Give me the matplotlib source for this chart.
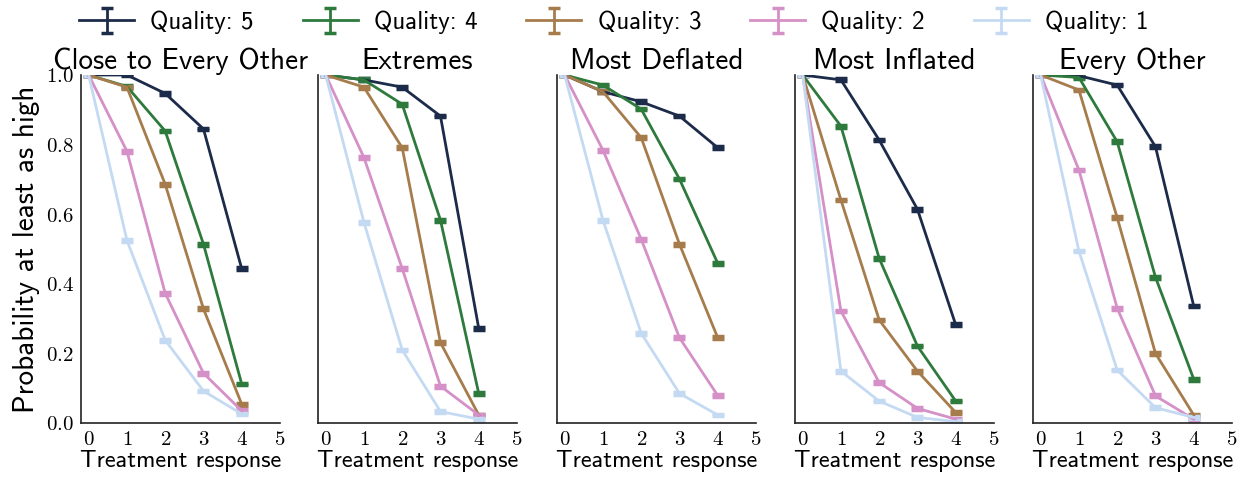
import numpy as np
import matplotlib
matplotlib.use("Agg")
import matplotlib.pyplot as plt
from matplotlib.ticker import FuncFormatter

plt.rcParams['mathtext.fontset'] = 'cm'
plt.rcParams['font.family'] = ['cmss10', 'DejaVu Sans']
plt.rcParams['axes.unicode_minus'] = False

# data
responses = [0, 1, 2, 3, 4]
panel_titles = ["Close to Every Other", "Extremes", "Most Deflated", "Most Inflated", "Every Other"]
quality_labels = ["Quality: 5", "Quality: 4", "Quality: 3", "Quality: 2", "Quality: 1"]
colours = ['#1c2b4a', '#2e7a3c', '#a67c4c', '#d590c7', '#c4daf3']

close_every_other = [
    [1.0, 1.0, 0.947, 0.845, 0.443],
    [1.0, 0.967, 0.839, 0.514, 0.112],
    [1.0, 0.965, 0.686, 0.328, 0.054],
    [1.0, 0.781, 0.373, 0.143, 0.035],
    [1.0, 0.525, 0.238, 0.092, 0.026],
]
extremes = [
    [1.0, 0.986, 0.965, 0.882, 0.272],
    [1.0, 0.986, 0.916, 0.583, 0.085],
    [1.0, 0.965, 0.791, 0.231, 0.023],
    [1.0, 0.763, 0.444, 0.106, 0.023],
    [1.0, 0.577, 0.210, 0.033, 0.011],
]
most_deflated = [
    [1.0, 0.952, 0.923, 0.882, 0.791],
    [1.0, 0.971, 0.902, 0.701, 0.459],
    [1.0, 0.952, 0.820, 0.514, 0.245],
    [1.0, 0.784, 0.528, 0.245, 0.079],
    [1.0, 0.583, 0.258, 0.085, 0.023],
]
most_inflated = [
    [1.0, 0.986, 0.813, 0.614, 0.282],
    [1.0, 0.853, 0.473, 0.221, 0.063],
    [1.0, 0.641, 0.296, 0.149, 0.030],
    [1.0, 0.322, 0.116, 0.042, 0.011],
    [1.0, 0.149, 0.063, 0.016, 0.004],
]
every_other = [
    [1.0, 0.998, 0.971, 0.794, 0.336],
    [1.0, 0.993, 0.808, 0.419, 0.126],
    [1.0, 0.957, 0.590, 0.200, 0.023],
    [1.0, 0.727, 0.330, 0.078, 0.011],
    [1.0, 0.494, 0.152, 0.044, 0.016],
]
panels = [close_every_other, extremes, most_deflated, most_inflated, every_other]
err = 0.004  # error bars are tiny, only the caps show

fig = plt.figure(figsize=(12.5, 4.82), dpi=100)
lefts = [81, 318, 557, 795, 1033]
axes = []
for i in range(5):
    ax = fig.add_axes([lefts[i] / 1250, 1 - 423 / 482, 199 / 1250, 348 / 482])
    axes.append(ax)
    for q in range(5):
        ax.errorbar(responses, panels[i][q], yerr=err, color=colours[q], lw=2,
                    capsize=4, capthick=2.5, elinewidth=2, label=quality_labels[q])
    ax.set_xlim(-0.2, 5)
    ax.set_ylim(0, 1)
    ax.set_xticks([0, 1, 2, 3, 4, 5])
    ax.set_yticks([0, 0.2, 0.4, 0.6, 0.8, 1.0])
    ax.xaxis.set_major_formatter(FuncFormatter(lambda v, p: '$%d$' % v))
    ax.yaxis.set_major_formatter(FuncFormatter(lambda v, p: '$%.1f$' % v))
    ax.tick_params(length=0, labelsize=15, pad=5)
    if i > 0:
        ax.set_yticklabels([])
    for s in ['top', 'right']:
        ax.spines[s].set_visible(False)
    for s in ['left', 'bottom']:
        ax.spines[s].set_color('#222222')
        ax.spines[s].set_linewidth(1.2)
    ax.set_title(panel_titles[i], fontsize=21, pad=3)
    ax.set_xlabel('Treatment response', fontsize=17.5, labelpad=1)

axes[0].set_ylabel('Probability at least as high', fontsize=21, labelpad=4)
handles, labels = axes[0].get_legend_handles_labels()
fig.legend(handles, labels, loc='upper center', bbox_to_anchor=(0.491, 1.025), ncol=5,
           frameon=False, fontsize=18, handlelength=2.2, handletextpad=0.65,
           columnspacing=1.95)

fig.savefig('out.png', dpi=100)
